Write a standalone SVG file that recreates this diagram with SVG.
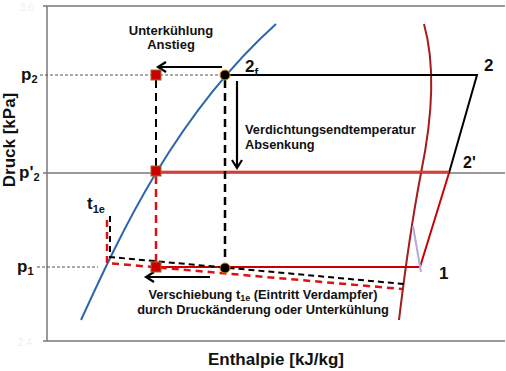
<svg xmlns="http://www.w3.org/2000/svg" width="506" height="371" viewBox="0 0 506 371">
<defs>
<style>
.t{font-family:"Liberation Sans",Arial,sans-serif;font-weight:bold;fill:#111;}
.ax{stroke:#7a7a7a;stroke-width:1.5;fill:none;}
.guide{stroke:#555;stroke-width:1;stroke-dasharray:3 2;fill:none;}
.blk{stroke:#000;stroke-width:2;fill:none;}
.red{stroke:#cc0000;stroke-width:2;fill:none;}
.bd{stroke:#000;stroke-width:2.5;stroke-dasharray:8 5;fill:none;}
.rd{stroke:#dd1111;stroke-width:2.5;stroke-dasharray:8 5;fill:none;}
.sq{fill:#cc0000;stroke:#a06a30;stroke-width:1;}
.dot{fill:#000;stroke:#e08a00;stroke-width:1;}
.arr{stroke:#000;stroke-width:2.2;fill:none;}
</style>
<marker id="ah" markerWidth="14" markerHeight="14" refX="11" refY="7" orient="auto" markerUnits="userSpaceOnUse">
<path d="M3,2 L11,7 L3,12" fill="none" stroke="#000" stroke-width="2.2"/>
</marker>
</defs>

<g id="axes">
<path class="ax" d="M43,6 H505 M47,6 V341 M43,341 H505 M43,173 H505"/>
<text class="t" x="20" y="11" font-size="10" style="fill:#f0f0f0;font-weight:normal">3.6</text>
<text class="t" x="18" y="346" font-size="10" style="fill:#f0f0f0;font-weight:normal">2.4</text>
<text class="t" x="15" y="140" font-size="17" text-anchor="middle" transform="rotate(-90 15 140)">Druck [kPa]</text>
<text class="t" x="276" y="365" font-size="17" text-anchor="middle">Enthalpie [kJ/kg]</text>
</g>

<g id="guides">
<path class="guide" d="M40,75 H220 M37,267 H98"/>
</g>

<g id="saturation-liquid">
<path d="M81,320 C120,235 175,115 276,24" stroke="#2b66ad" stroke-width="2" fill="none"/>
</g>
<g id="saturation-vapor">
<path d="M424,24 C434,60 434,110 421,173 C413,215 405,270 399,320" stroke="#a31d1d" stroke-width="2" fill="none"/>
</g>

<g id="connectors">
<path class="blk" d="M225,75 H477 L449,173"/>
<path d="M161,172 H449" stroke="#cc0000" stroke-width="2.6" fill="none"/>
<path d="M161,172 H449" stroke="#eab0b0" stroke-width="0.7" fill="none"/>
<path class="red" d="M449,173 L420,267 H161"/>
<path d="M413,226 L421,272" stroke="#b3abd9" stroke-width="2" fill="none"/>
<path class="bd" d="M225,80 V262"/>
<path class="bd" style="stroke-width:2" d="M156,80 V166"/>
<path class="rd" d="M156,176 V262"/>
<path class="bd" style="stroke-width:2;stroke-dasharray:6 4" d="M110,216 V257 L404,284"/>
<path class="rd" style="stroke-dasharray:7 5" d="M107,220 V263 L402,289"/>
<path class="arr" marker-end="url(#ah)" d="M222,67 H158"/>
<path class="arr" marker-end="url(#ah)" d="M237,81 V168"/>
<path class="arr" marker-end="url(#ah)" d="M210,277 H146"/>
</g>

<g id="point-2f">
<circle class="dot" cx="225" cy="75" r="5"/>
<text class="t" x="245" y="72" font-size="17">2<tspan font-size="11" dy="4">f</tspan></text>
</g>
<g id="point-2">
<text class="t" x="484" y="71" font-size="17">2</text>
</g>
<g id="point-2prime">
<text class="t" x="463" y="168" font-size="16">2'</text>
</g>
<g id="point-1">
<text class="t" x="439" y="279" font-size="17">1</text>
</g>
<g id="point-p1-low">
<circle class="dot" cx="225" cy="268" r="5"/>
</g>
<g id="squares">
<rect class="sq" x="151" y="70" width="10" height="10"/>
<rect class="sq" x="151" y="166" width="10" height="10"/>
<rect class="sq" x="151" y="262" width="10" height="10"/>
</g>

<g id="labels">
<text class="t" x="21" y="80" font-size="17">p<tspan font-size="11" dy="3">2</tspan></text>
<text class="t" x="19" y="178" font-size="17">p'<tspan font-size="11" dy="3">2</tspan></text>
<text class="t" x="17" y="272" font-size="17">p<tspan font-size="11" dy="3">1</tspan></text>
<text class="t" x="87" y="209" font-size="17">t<tspan font-size="11" dy="4">1e</tspan></text>
<text class="t" x="171" y="35" font-size="13" text-anchor="middle">Unterkühlung</text>
<text class="t" x="171" y="49" font-size="13" text-anchor="middle">Anstieg</text>
<text class="t" x="245" y="134" font-size="12.8">Verdichtungsendtemperatur</text>
<text class="t" x="245" y="149" font-size="12.8">Absenkung</text>
<text class="t" x="263" y="299" font-size="12.8" text-anchor="middle">Verschiebung t<tspan font-size="9" dy="2">1e</tspan><tspan dy="-2"> (Eintritt Verdampfer)</tspan></text>
<text class="t" x="263" y="314" font-size="12.8" text-anchor="middle">durch Druckänderung oder Unterkühlung</text>
</g>
</svg>
